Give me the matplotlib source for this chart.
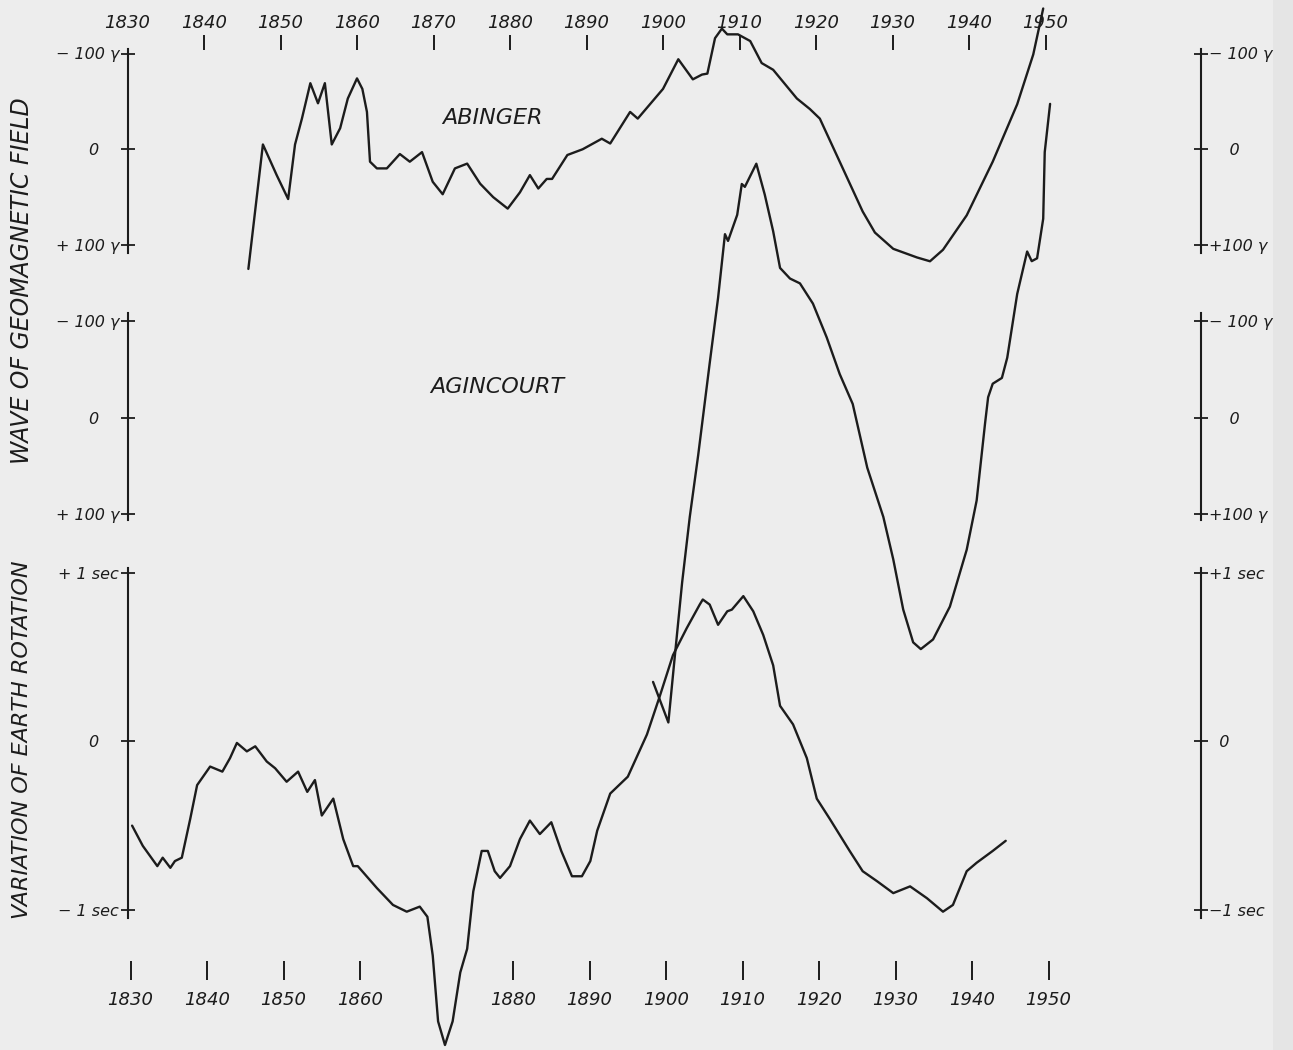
import numpy as np
import matplotlib
matplotlib.use('Agg')
import matplotlib.pyplot as plt
from matplotlib.patches import Rectangle


# Geomagnetic wave at Abinger (gamma).
abinger_year = [1845.8, 1847.7, 1849.5, 1851.0, 1851.9, 1852.8, 1853.9, 1854.9, 1855.8, 1856.7,
                1857.8, 1858.8, 1860.0, 1860.7, 1861.3, 1861.7, 1862.6, 1863.9, 1865.6, 1866.9,
                1868.5, 1869.9, 1871.2, 1872.8, 1874.4, 1876.1, 1877.8, 1879.7, 1881.3, 1882.6,
                1883.7, 1884.8, 1885.5, 1887.5, 1889.5, 1892.0, 1893.1, 1895.7, 1896.7, 1900.0,
                1902.0, 1903.9, 1905.1, 1905.8, 1906.8, 1907.7, 1908.4, 1909.8, 1911.4, 1912.9,
                1914.4, 1917.5, 1919.2, 1920.5, 1923.1, 1926.1, 1927.7, 1930.1, 1933.2, 1934.9,
                1936.6, 1939.7, 1943.1, 1946.3, 1948.4, 1949.7]
abinger_gamma = [125, -5, 27, 52, -5, -32, -69, -48, -69, -5,
                 -22, -53, -74, -63, -39, 13, 20, 20, 5, 13,
                 3, 34, 47, 20, 15, 36, 50, 62, 45, 27,
                 41, 31, 31, 6, 0, -11, -6, -39, -32, -63,
                 -94, -73, -78, -79, -116, -126, -120, -120, -113, -90,
                 -83, -53, -42, -32, 13, 65, 87, 104, 113, 117,
                 105, 69, 13, -47, -99, -147]

# Geomagnetic wave at Agincourt (gamma).
agincourt_year = [1898.7, 1900.7, 1901.6, 1902.5, 1903.5, 1904.6, 1906.1, 1907.2, 1908.1, 1908.5,
                  1909.7, 1910.3, 1910.7, 1912.2, 1913.3, 1914.4, 1915.3, 1916.6, 1917.9, 1919.6,
                  1921.4, 1923.1, 1924.8, 1926.7, 1928.8, 1930.1, 1931.4, 1932.7, 1933.7, 1935.3,
                  1937.5, 1939.7, 1941.0, 1942.1, 1942.5, 1943.1, 1944.3, 1945.0, 1946.3, 1947.6,
                  1948.2, 1948.9, 1949.7, 1949.9, 1950.6]
agincourt_gamma = [274, 316, 243, 171, 103, 39, -56, -124, -190, -183,
                   -210, -242, -239, -263, -231, -193, -155, -144, -139, -118,
                   -83, -45, -14, 52, 103, 147, 199, 233, 240, 230,
                   196, 137, 86, 6, -21, -35, -41, -62, -128, -172,
                   -162, -165, -206, -275, -325]

# Variation of earth rotation (sec).
rotation_year = [1830.6, 1832.0, 1833.9, 1834.6, 1835.6, 1836.2, 1837.1, 1838.2, 1839.1, 1840.8,
                 1842.4, 1843.4, 1844.3, 1845.6, 1846.7, 1848.2, 1849.3, 1850.8, 1852.3, 1853.5,
                 1854.5, 1855.4, 1856.9, 1858.2, 1859.5, 1860.1, 1862.6, 1864.7, 1866.5, 1868.2,
                 1869.2, 1869.9, 1870.6, 1871.5, 1872.5, 1873.5, 1874.4, 1875.2, 1876.3, 1877.1,
                 1878.0, 1878.7, 1880.0, 1881.3, 1882.6, 1883.9, 1885.4, 1886.7, 1888.1, 1889.4,
                 1890.5, 1891.4, 1893.1, 1895.4, 1897.9, 1899.6, 1901.3, 1903.1, 1904.8, 1905.2,
                 1906.1, 1907.2, 1908.4, 1909.0, 1910.5, 1911.8, 1913.1, 1914.4, 1915.3, 1917.0,
                 1918.8, 1920.1, 1921.8, 1924.4, 1926.1, 1928.0, 1930.1, 1932.3, 1934.5, 1936.6,
                 1937.9, 1939.7, 1941.0, 1943.1, 1944.8]
rotation_sec = [-0.50, -0.62, -0.74, -0.69, -0.75, -0.71, -0.69, -0.46, -0.26, -0.15,
                -0.18, -0.10, -0.01, -0.06, -0.03, -0.12, -0.16, -0.24, -0.18, -0.30,
                -0.23, -0.44, -0.34, -0.58, -0.74, -0.74, -0.87, -0.97, -1.01, -0.98,
                -1.04, -1.27, -1.66, -1.80, -1.66, -1.37, -1.23, -0.89, -0.65, -0.65,
                -0.77, -0.81, -0.74, -0.58, -0.47, -0.55, -0.48, -0.65, -0.80, -0.80,
                -0.71, -0.53, -0.31, -0.21, 0.04, 0.27, 0.51, 0.67, 0.81, 0.84,
                0.81, 0.69, 0.77, 0.78, 0.86, 0.77, 0.63, 0.45, 0.21, 0.10,
                -0.10, -0.34, -0.46, -0.65, -0.77, -0.83, -0.90, -0.86, -0.93, -1.01,
                -0.97, -0.77, -0.72, -0.65, -0.59]

top_years = [1830, 1840, 1850, 1860, 1870, 1880, 1890, 1900, 1910, 1920, 1930, 1940, 1950]
bottom_years = [1830, 1840, 1850, 1860, 1880, 1890, 1900, 1910, 1920, 1930, 1940, 1950]

gamma_ticks = [-100, 0, 100]
gamma_left = ['\u2212 100 \u03b3', '0    ', '+ 100 \u03b3']
gamma_right = ['\u2212 100 \u03b3', '    0', '+100 \u03b3']
sec_ticks = [1, 0, -1]
sec_left = ['+ 1 sec', '0    ', '\u2212 1 sec']
sec_right = ['+1 sec', '  0', '\u22121 sec']
#====================================================================================================


W, H = 1293, 1050
fig = plt.figure(figsize=(W / 100, H / 100), dpi=100)
fig.patch.set_facecolor('#ededed')
fig.patches.append(Rectangle((1273 / W, 0), (W - 1273) / W, 1, transform=fig.transFigure,
                             facecolor='#e5e5e5', edgecolor='none', zorder=-5))

ink = '#1c1c1c'
font = dict(family='DejaVu Sans', style='italic', color=ink)
X0, X1 = 127.5, 1200.7      # pixel columns of the two scale bars
px_per_year = 7.65
year_max = 1830 + (X1 - X0) / px_per_year


def px_box(left, top, right, bottom):
    return [left / W, 1 - bottom / H, (right - left) / W, (bottom - top) / H]


def scale_panel(top, bottom, v_a, p_a, v_b, p_b, ticks, left_labels, right_labels):
    # axes whose left/right spines are the vertical scale bars
    ax = fig.add_axes(px_box(X0, top, X1, bottom))
    k = (p_b - p_a) / (v_b - v_a)
    ax.set_ylim(v_a + (bottom - p_a) / k, v_a + (top - p_a) / k)
    ax.set_xlim(1830, year_max)
    ax.patch.set_visible(False)
    for s in ['top', 'bottom', 'right']:
        ax.spines[s].set_visible(False)
    ax.spines['left'].set_linewidth(1.5)
    ax.spines['left'].set_color(ink)
    ax.set_xticks([])
    ax.set_yticks(ticks, left_labels, fontsize=11.5, **font)
    ax.tick_params(axis='y', direction='inout', length=10, width=1.3, color=ink, pad=1)

    axr = ax.twinx()
    axr.set_ylim(ax.get_ylim())
    axr.patch.set_visible(False)
    for s in ['top', 'bottom', 'left']:
        axr.spines[s].set_visible(False)
    axr.spines['right'].set_linewidth(1.5)
    axr.spines['right'].set_color(ink)
    axr.set_yticks(ticks, right_labels, fontsize=11.5, **font)
    axr.tick_params(axis='y', direction='inout', length=10, width=1.3, color=ink, pad=1)
    return ax


ax_ab = scale_panel(49, 253, -100, 53.5, 100, 245, gamma_ticks, gamma_left, gamma_right)
ax_ag = scale_panel(313, 520, -100, 321, 100, 514, gamma_ticks, gamma_left, gamma_right)
ax_rot = scale_panel(568, 918, 1, 572.5, -1, 910, sec_ticks, sec_left, sec_right)

line_kw = dict(color=ink, linewidth=1.7, solid_joinstyle='round', solid_capstyle='round', clip_on=False)
ax_ab.plot(abinger_year, abinger_gamma, **line_kw)
ax_ag.plot(agincourt_year, agincourt_gamma, **line_kw)
ax_rot.plot(rotation_year, rotation_sec, **line_kw)
#====================================================================================================


# Year scales above and below the curves.
axt = fig.add_axes(px_box(X0, 35, X1, 50))
axt.set_xlim(1830, year_max)
axt.axis('on')
axt.patch.set_visible(False)
for s in axt.spines.values():
    s.set_visible(False)
axt.set_yticks([])
axt.xaxis.tick_top()
axt.set_xticks(top_years, [str(y) for y in top_years], fontsize=13, **font)
axt.tick_params(axis='x', direction='in', length=11, width=1.4, color=ink, pad=2,
                top=True, bottom=False, labeltop=True, labelbottom=False)
axt.xaxis.get_major_ticks()[0].tick2line.set_visible(False)

axb = fig.add_axes(px_box(X0 + 3, 960, X1 + 3, 980))
axb.set_xlim(1830, year_max)
axb.patch.set_visible(False)
for s in axb.spines.values():
    s.set_visible(False)
axb.set_yticks([])
axb.set_xticks(bottom_years, [str(y) for y in bottom_years], fontsize=13, **font)
axb.tick_params(axis='x', direction='in', length=14, width=1.4, color=ink, pad=8)
#====================================================================================================


# Station names and side captions.
fig.text(492 / W, 1 - 118 / H, 'ABINGER', ha='center', va='center', fontsize=16, **font)
fig.text(430 / W, 1 - 387 / H, 'AGINCOURT', ha='left', va='center', fontsize=16, **font)
fig.text(22 / W, 1 - 281 / H, 'WAVE OF GEOMAGNETIC FIELD', rotation=90,
         ha='center', va='center', fontsize=17, **font)
fig.text(22 / W, 1 - 740 / H, 'VARIATION OF EARTH ROTATION', rotation=90,
         ha='center', va='center', fontsize=16, **font)

plt.savefig('out.png', dpi=100, facecolor=fig.get_facecolor())
